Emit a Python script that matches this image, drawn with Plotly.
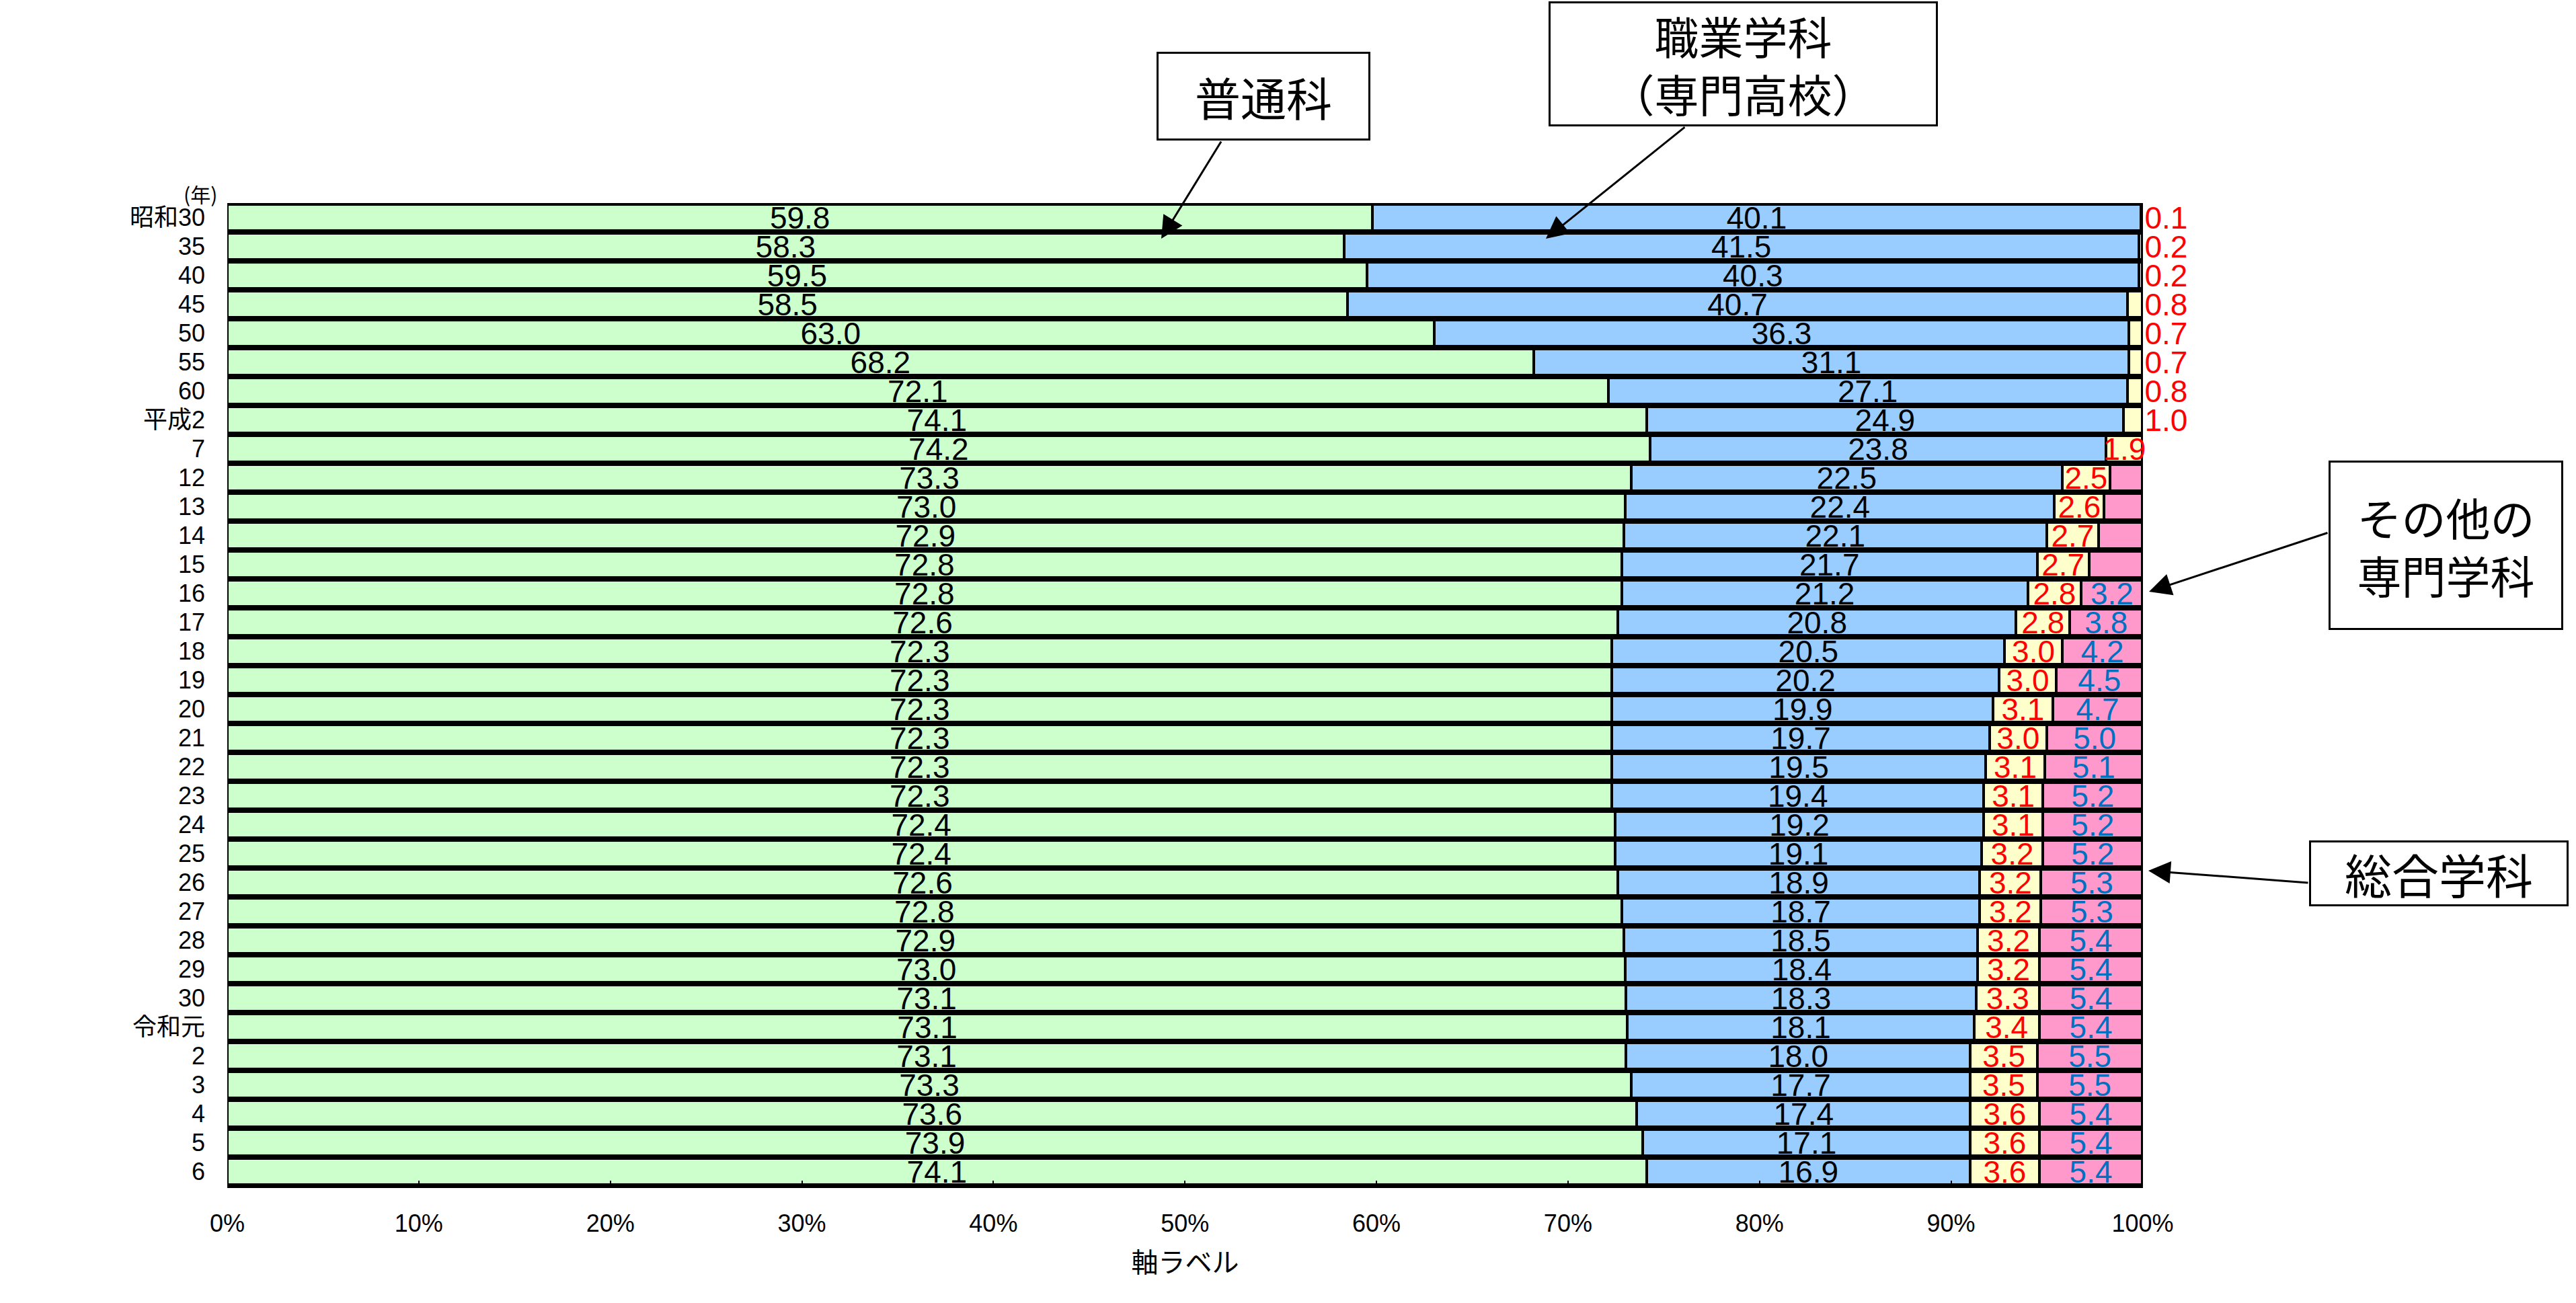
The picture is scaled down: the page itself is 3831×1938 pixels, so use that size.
import plotly.graph_objects as go

# 高等学校 学科別生徒数の構成比（%）
years = ['昭和30', '35', '40', '45', '50', '55', '60', '平成2', '7',
         '12', '13', '14', '15', '16', '17', '18', '19', '20', '21', '22',
         '23', '24', '25', '26', '27', '28', '29', '30',
         '令和元', '2', '3', '4', '5', '6']

general = [59.8, 58.3, 59.5, 58.5, 63.0, 68.2, 72.1, 74.1, 74.2,
           73.3, 73.0, 72.9, 72.8, 72.8, 72.6, 72.3, 72.3, 72.3, 72.3, 72.3,
           72.3, 72.4, 72.4, 72.6, 72.8, 72.9, 73.0, 73.1,
           73.1, 73.1, 73.3, 73.6, 73.9, 74.1]
vocational = [40.1, 41.5, 40.3, 40.7, 36.3, 31.1, 27.1, 24.9, 23.8,
              22.5, 22.4, 22.1, 21.7, 21.2, 20.8, 20.5, 20.2, 19.9, 19.7, 19.5,
              19.4, 19.2, 19.1, 18.9, 18.7, 18.5, 18.4, 18.3,
              18.1, 18.0, 17.7, 17.4, 17.1, 16.9]
other = [0.1, 0.2, 0.2, 0.8, 0.7, 0.7, 0.8, 1.0, 1.9,
         2.5, 2.6, 2.7, 2.7, 2.8, 2.8, 3.0, 3.0, 3.1, 3.0, 3.1,
         3.1, 3.1, 3.2, 3.2, 3.2, 3.2, 3.2, 3.3,
         3.4, 3.5, 3.5, 3.6, 3.6, 3.6]
# 総合学科: no bar before 平成12, no printed label until 平成16
integrated = [None] * 9 + [1.7, 2.0, 2.3, 2.8, 3.2, 3.8, 4.2, 4.5, 4.7, 5.0,
                           5.1, 5.2, 5.2, 5.2, 5.3, 5.3, 5.4, 5.4, 5.4,
                           5.4, 5.5, 5.5, 5.4, 5.4, 5.4]
integrated_first_label = '16'

W, H = 3831, 1938
L, R = 338, 3187      # plot area, px
T, B = 302, 1764
XMAX = 100.02         # a hair over 100 so float sums stay inside the range

NUM = 'Liberation Sans, Arial, Noto Sans CJK JP'
JP = 'Noto Sans CJK JP'


def fmt(vals):
    return ['' if v is None else f'{v:.1f}' for v in vals]


def paper(x, y):
    return (x - L) / (R - L), (B - y) / (B - T)


# 100% stacked: rounded shares don't always add to exactly 100, so scale each row
totals = [sum(v or 0 for v in row) for row in zip(general, vocational, other, integrated)]


def share(vals):
    return [None if v is None else v / t * 100 for v, t in zip(vals, totals)]


start = years.index(integrated_first_label)
integrated_text = [t if i >= start else '' for i, t in enumerate(fmt(integrated))]
other_pos = ['outside' if v <= 1.0 else 'inside' for v in other]

series = [
    ('普通科', general, '#CCFFCC', 'black', fmt(general), 'inside'),
    ('職業学科', vocational, '#99CCFF', 'black', fmt(vocational), 'inside'),
    ('その他の専門学科', other, '#FFFFCC', '#FF0000', fmt(other), other_pos),
    ('総合学科', integrated, '#FF99CC', '#0070C0', integrated_text, 'inside'),
]

fig = go.Figure()
for name, vals, fill, tcol, text, pos in series:
    fig.add_trace(go.Bar(
        y=years, x=share(vals), name=name, orientation='h',
        marker=dict(color=fill, line=dict(color='black', width=4)),
        text=text, textposition=pos, insidetextanchor='middle',
        textangle=0, constraintext='none', cliponaxis=False,
        textfont=dict(family=NUM, size=46, color=tcol),
        outsidetextfont=dict(family=NUM, size=46, color=tcol),
        hoverinfo='skip',
    ))

fig.update_layout(
    width=W, height=H, barmode='stack', bargap=0.1,
    margin=dict(l=L, r=W - R, t=T, b=H - B, pad=0),
    plot_bgcolor='white', paper_bgcolor='white', showlegend=False,
    font=dict(family=JP, color='black'),
    xaxis=dict(range=[0, XMAX], tick0=0, dtick=10, ticksuffix='%',
               ticks='inside', ticklen=8, tickwidth=2, tickcolor='black',
               showgrid=False, zeroline=False,
               showline=True, linecolor='black', linewidth=3,
               tickfont=dict(family=NUM, size=36), ticklabelstandoff=22,
               title=dict(text='軸ラベル', font=dict(family=JP, size=40), standoff=25)),
    yaxis=dict(type='category', autorange='reversed', showgrid=False,
               tickmode='linear', tick0=0, dtick=1,
               zeroline=False, showline=False, ticks='',
               tickfont=dict(family=NUM, size=36), ticklabelstandoff=32),
)

# (年) unit label above the category labels
ux, uy = paper(325, 288)
fig.add_annotation(text='(年)', xref='paper', yref='paper', x=ux, y=uy,
                   xanchor='right', yanchor='middle', showarrow=False,
                   font=dict(family=JP, size=30))

# callout boxes: text, centre x, centre y, box w, box h, font size
boxes = [
    ('普通科', 1879, 143, 318, 132, 68),
    ('職業学科<br>（専門高校）', 2592, 95, 579, 186, 66),
    ('その他の<br>専門学科', 3637, 811, 349, 252, 66),
    ('総合学科', 3627, 1299, 386, 98, 70),
]
for text, cx, cy, bw, bh, fs in boxes:
    px_, py_ = paper(cx, cy)
    fig.add_annotation(text=text, xref='paper', yref='paper', x=px_, y=py_,
                       xanchor='center', yanchor='middle', showarrow=False,
                       width=bw - 6, height=bh - 6, borderpad=0,
                       bordercolor='black', borderwidth=3, bgcolor='white',
                       font=dict(family=JP, size=fs, color='black'))

# arrows: tail (x, y) -> tip (x, y) in page pixels
arrows = [
    ((1817, 209), (1727, 355)),
    ((2507, 188), (2299, 355)),
    ((3463, 792), (3196, 880)),
    ((3434, 1313), (3195, 1295)),
]
for (sx, sy), (tx, ty) in arrows:
    px_, py_ = paper(tx, ty)
    fig.add_annotation(text='', xref='paper', yref='paper', x=px_, y=py_,
                       axref='pixel', ayref='pixel', ax=sx - tx, ay=sy - ty,
                       showarrow=True, arrowhead=2, arrowsize=2.2,
                       arrowwidth=3, arrowcolor='black',
                       standoff=0, startstandoff=0)

fig.write_html("out.html", config={'displayModeBar': False},
               post_script="document.body.style.margin='0';")
